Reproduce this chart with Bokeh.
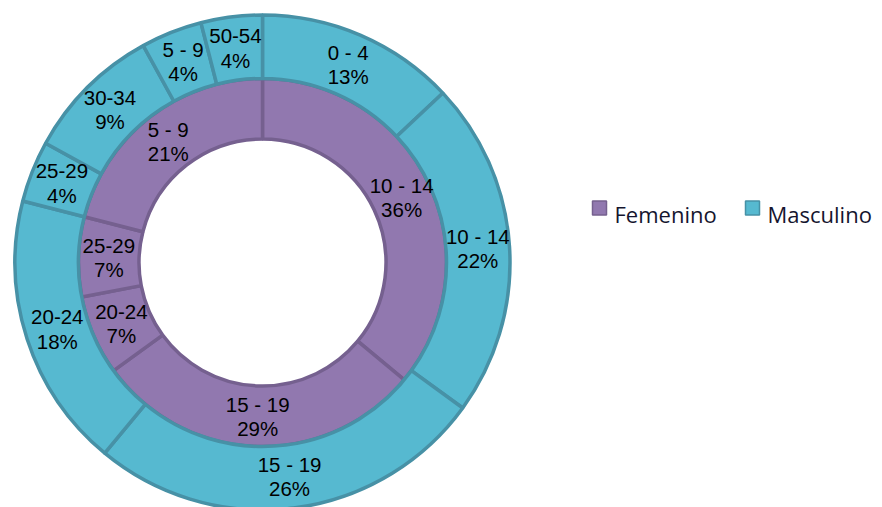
import numpy as np
from bokeh.plotting import figure
from bokeh.models import ColumnDataSource, Range1d
from bokeh.embed import file_html
from bokeh.resources import INLINE
from bokeh.core.properties import value

# ---- data ----
series_names = ["Femenino", "Masculino"]
series_fill = ["#9178AF", "#56B9D0"]
series_line = ["#75608F", "#4791A6"]

fem_groups = ["10 - 14", "15 - 19", "20-24", "25-29", "5 - 9"]
fem_values = [36, 29, 7, 7, 21]

masc_groups = ["0 - 4", "10 - 14", "15 - 19", "20-24", "25-29", "30-34", "5 - 9", "50-54"]
masc_values = [13, 22, 26, 18, 4, 9, 4, 4]

# ---- layout (pixels == data units) ----
W, H = 882, 507
CX, CY = 262, 245
R_HOLE, R_MID, R_OUT = 123.5, 184, 247.5

p = figure(width=W, height=H, x_range=Range1d(0, W), y_range=Range1d(0, H),
           output_backend="svg", toolbar_location=None, min_border=0,
           x_axis_location=None, y_axis_location=None)
p.grid.visible = False
p.outline_line_color = None
p.background_fill_color = "white"
p.border_fill_color = "white"


def ring(groups, vals, r_in, r_out):
    v = np.array(vals, dtype=float)
    frac = v / v.sum()
    cum_end = np.cumsum(frac)
    cum_start = cum_end - frac
    start = np.pi / 2 - 2 * np.pi * cum_end
    end = np.pi / 2 - 2 * np.pi * cum_start
    mid = (start + end) / 2
    rm = (r_in + r_out) / 2
    lx = CX + rm * np.cos(mid)
    ly = CY + rm * np.sin(mid)
    pct = [f"{int(round(x))}%" for x in v / v.sum() * 100]
    return ColumnDataSource(dict(start=start, end=end, lx=lx, ly_top=ly + 12,
                                 ly_bot=ly - 12, name=groups, pct=pct,
                                 x=[CX] * len(v), y=[CY] * len(v)))


src_f = ring(fem_groups, fem_values, R_HOLE, R_MID)
src_m = ring(masc_groups, masc_values, R_MID, R_OUT)

p.annular_wedge(x="x", y="y", inner_radius=R_HOLE, outer_radius=R_MID,
                start_angle="start", end_angle="end", source=src_f,
                fill_color=series_fill[0], line_color=series_line[0], line_width=3.5)
p.annular_wedge(x="x", y="y", inner_radius=R_MID, outer_radius=R_OUT,
                start_angle="start", end_angle="end", source=src_m,
                fill_color=series_fill[1], line_color=series_line[1], line_width=3.5)

for src in (src_f, src_m):
    p.text(x="lx", y="ly_top", text="name", source=src, text_align="center",
           text_baseline="middle", text_font=value("Liberation Sans"),
           text_font_size="20.5px", text_color="black")
    p.text(x="lx", y="ly_bot", text="pct", source=src, text_align="center",
           text_baseline="middle", text_font=value("Liberation Sans"),
           text_font_size="20.5px", text_color="black")

# ---- legend ----
leg_sq_x = [599, 752]
leg_src = ColumnDataSource(dict(
    sx=leg_sq_x, sy=[299.5, 299.5], tx=[x + 15 for x in leg_sq_x], ty=[294, 294],
    name=series_names, fill=series_fill, line=series_line))
p.rect(x="sx", y="sy", width=14, height=14, source=leg_src,
       fill_color="fill", line_color="line", line_width=1.5)
p.text(x="tx", y="ty", text="name", source=leg_src, text_align="left",
       text_baseline="middle", text_font=value("Open Sans"),
       text_font_size="22px", text_color="#15152E")

open("out.html", "w").write(file_html(p, INLINE))
